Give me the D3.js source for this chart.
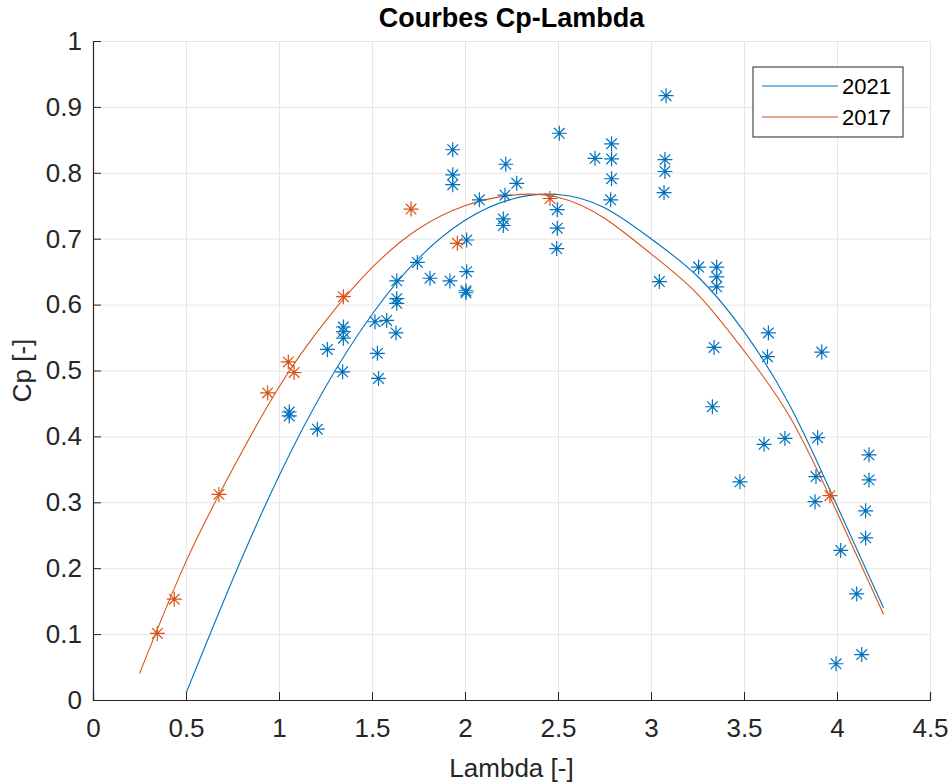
<!DOCTYPE html>
<html>
<head>
<meta charset="utf-8">
<script src="https://cdn.jsdelivr.net/npm/d3@7"></script>
<style>
  body { margin: 0; background: #fff; }
  svg text { font-family: "Liberation Sans", Arial, Helvetica, sans-serif; }
</style>
</head>
<body>
<div id="chart"></div>
<script>
// measured points, 2021
const lambda2021 = [1.055, 1.055, 1.206, 1.26, 1.342, 1.346, 1.346, 1.346, 1.516, 1.529, 1.535, 1.579,
  1.629, 1.633, 1.633, 1.633, 1.744, 1.812, 1.919, 1.934, 1.934, 1.934, 2.009, 2.009, 2.005, 2.005,
  2.077, 2.206, 2.206, 2.215, 2.219, 2.278, 2.496, 2.496, 2.493, 2.507, 2.699, 2.788, 2.788, 2.788,
  2.783, 3.045, 3.075, 3.075, 3.07, 3.081, 3.256, 3.353, 3.353, 3.353, 3.339, 3.33, 3.478, 3.608,
  3.631, 3.626, 3.72, 3.896, 3.887, 3.882, 3.918, 3.995, 4.02, 4.106, 4.133, 4.154, 4.154, 4.172, 4.172];
const cp2021 = [0.437, 0.431, 0.411, 0.532, 0.498, 0.566, 0.559, 0.549, 0.574, 0.526, 0.488, 0.576,
  0.557, 0.636, 0.609, 0.602, 0.664, 0.640, 0.636, 0.835, 0.797, 0.782, 0.698, 0.650, 0.621, 0.618,
  0.759, 0.730, 0.720, 0.766, 0.813, 0.784, 0.744, 0.716, 0.685, 0.860, 0.822, 0.844, 0.821, 0.791,
  0.759, 0.635, 0.820, 0.802, 0.770, 0.917, 0.657, 0.657, 0.642, 0.627, 0.535, 0.445, 0.331, 0.388,
  0.557, 0.521, 0.397, 0.398, 0.339, 0.301, 0.528, 0.055, 0.227, 0.161, 0.069, 0.287, 0.246, 0.372, 0.334];

// measured points, 2017
const lambda2017 = [0.346, 0.437, 0.677, 0.939, 1.05, 1.081, 1.346, 1.71, 1.959, 2.457, 3.962];
const cp2017 = [0.101, 0.153, 0.312, 0.466, 0.513, 0.497, 0.612, 0.745, 0.693, 0.761, 0.310];

// fitted curves
const fitLambda2021 = [0.5, 0.75, 1, 1.25, 1.5, 1.75, 2, 2.25, 2.5, 2.75, 3, 3.25, 3.5, 3.75, 4, 4.25];
const fitCp2021 = [0.01, 0.182, 0.34, 0.475, 0.585, 0.67, 0.728, 0.76, 0.767, 0.747, 0.70, 0.643, 0.559, 0.445, 0.295, 0.14];
const fitLambda2017 = [0.25, 0.5, 0.75, 1, 1.25, 1.5, 1.75, 2, 2.25, 2.5, 2.75, 3, 3.25, 3.5, 3.75, 4, 4.25];
const fitCp2017 = [0.04, 0.21, 0.35, 0.475, 0.575, 0.656, 0.715, 0.75, 0.766, 0.763, 0.731, 0.677, 0.616, 0.53, 0.428, 0.285, 0.13];

const seriesNames = ['2021', '2017'];
const xTicks = [0, 0.5, 1, 1.5, 2, 2.5, 3, 3.5, 4, 4.5];
const yTicks = [0, 0.1, 0.2, 0.3, 0.4, 0.5, 0.6, 0.7, 0.8, 0.9, 1];

const w = 949;
const h = 782;
const plotLeft = 93, plotRight = 930, plotTop = 41, plotBottom = 700;
const colors = ['#0072BD', '#D95319'];
const axisColor = '#262626';

const xScale = d3.scaleLinear().domain([0, 4.5]).range([plotLeft, plotRight]);
const yScale = d3.scaleLinear().domain([0, 1]).range([plotBottom, plotTop]);

const svg = d3.select('#chart')
  .append('svg')
  .attr('width', w)
  .attr('height', h);

// grid
svg.append('g')
  .attr('transform', 'translate(0,' + plotBottom + ')')
  .call(d3.axisBottom(xScale).tickValues(xTicks).tickSize(-(plotBottom - plotTop)).tickFormat(''))
  .call(g => g.select('.domain').remove())
  .selectAll('line').attr('stroke', '#e6e6e6');

svg.append('g')
  .attr('transform', 'translate(' + plotLeft + ',0)')
  .call(d3.axisLeft(yScale).tickValues(yTicks).tickSize(-(plotRight - plotLeft)).tickFormat(''))
  .call(g => g.select('.domain').remove())
  .selectAll('line').attr('stroke', '#e6e6e6');

// fitted curves
const line = d3.line()
  .x(d => xScale(d[0]))
  .y(d => yScale(d[1]))
  .curve(d3.curveNatural);

const fits = [
  d3.zip(fitLambda2021, fitCp2021),
  d3.zip(fitLambda2017, fitCp2017)
];

svg.selectAll('.fit')
  .data(fits)
  .enter()
  .append('path')
  .attr('class', 'fit')
  .attr('d', line)
  .attr('fill', 'none')
  .attr('stroke', (d, i) => colors[i])
  .attr('stroke-width', 1.1);

// asterisk markers
const r = 7.5, rd = 5.3;
const star = 'M' + (-r) + ',0H' + r + 'M0,' + (-r) + 'V' + r +
  'M' + (-rd) + ',' + (-rd) + 'L' + rd + ',' + rd + 'M' + (-rd) + ',' + rd + 'L' + rd + ',' + (-rd);

const points = [
  d3.zip(lambda2021, cp2021),
  d3.zip(lambda2017, cp2017)
];

points.forEach((pts, i) => {
  svg.append('g')
    .selectAll('path')
    .data(pts)
    .enter()
    .append('path')
    .attr('transform', d => 'translate(' + xScale(d[0]) + ',' + yScale(d[1]) + ')')
    .attr('d', star)
    .attr('fill', 'none')
    .attr('stroke', colors[i])
    .attr('stroke-width', 1.2);
});

// axes
const xAxis = svg.append('g')
  .attr('transform', 'translate(0,' + plotBottom + ')')
  .call(d3.axisBottom(xScale).tickValues(xTicks).tickSize(-8).tickPadding(19).tickFormat(d3.format('~g')));

const yAxis = svg.append('g')
  .attr('transform', 'translate(' + plotLeft + ',0)')
  .call(d3.axisLeft(yScale).tickValues(yTicks).tickSize(-8).tickPadding(11).tickFormat(d3.format('~g')));

[xAxis, yAxis].forEach(g => {
  g.select('.domain').attr('stroke', axisColor).attr('stroke-width', 1.2);
  g.selectAll('.tick line').attr('stroke', axisColor);
  g.selectAll('.tick text')
    .attr('fill', axisColor)
    .style('font-size', '26px');
});

// titles
svg.append('text')
  .attr('x', (plotLeft + plotRight) / 2)
  .attr('y', 27)
  .attr('text-anchor', 'middle')
  .style('font-size', '27px')
  .style('font-weight', 'bold')
  .attr('fill', '#000')
  .text('Courbes Cp-Lambda');

svg.append('text')
  .attr('x', (plotLeft + plotRight) / 2)
  .attr('y', 777)
  .attr('text-anchor', 'middle')
  .style('font-size', '26px')
  .attr('fill', axisColor)
  .text('Lambda [-]');

svg.append('text')
  .attr('transform', 'translate(31,' + ((plotTop + plotBottom) / 2) + ') rotate(-90)')
  .attr('text-anchor', 'middle')
  .style('font-size', '26px')
  .attr('fill', axisColor)
  .text('Cp [-]');

// legend
const legend = svg.append('g')
  .attr('id', 'legend')
  .attr('transform', 'translate(753,67)');

legend.append('rect')
  .attr('width', 150)
  .attr('height', 70)
  .attr('fill', '#fff')
  .attr('stroke', axisColor)
  .attr('stroke-width', 1);

const item = legend.selectAll('.item')
  .data(seriesNames)
  .enter()
  .append('g')
  .attr('class', 'item')
  .attr('transform', (d, i) => 'translate(0,' + (19 + i * 31) + ')');

item.append('line')
  .attr('x1', 9)
  .attr('x2', 85)
  .attr('stroke', (d, i) => colors[i])
  .attr('stroke-width', 1.1);

item.append('text')
  .attr('x', 89)
  .attr('dy', '0.35em')
  .style('font-size', '22px')
  .attr('fill', '#000')
  .text(d => d);
</script>
</body>
</html>
